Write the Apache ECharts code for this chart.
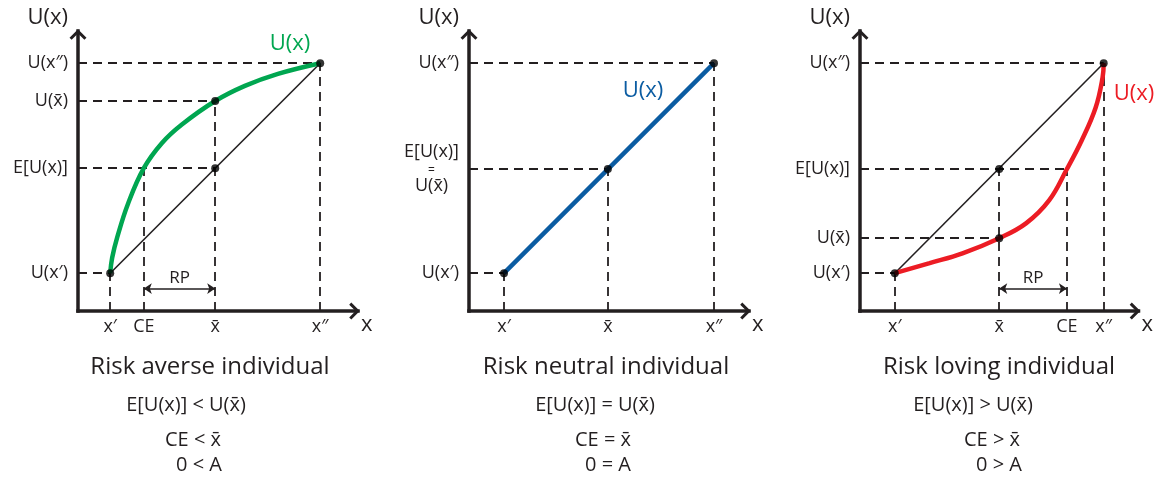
<!DOCTYPE html>
<html>
<head>
<meta charset="utf-8">
<script src="https://cdn.jsdelivr.net/npm/echarts@6/dist/echarts.min.js"></script>
<style>
html, body { margin: 0; padding: 0; background: #fff; }
#chart { width: 1156px; height: 483px; }
</style>
</head>
<body>
<div id="chart"></div>
<script>
// all three panels use 0-10 on both axes
const panelTitles = ['Risk averse individual', 'Risk neutral individual', 'Risk loving individual']
const xLow = [1.15, 1.25, 1.25]
const xCE = [2.35, null, 7.43]
const xMean = [4.9, 4.96, 5.0]
const xHigh = [8.65, 8.75, 8.75]
const uLow = [1.35, 1.35, 1.35]
const uExp = [5.1, 5.07, 5.07]
const uMean = [7.5, 5.07, 2.6]
const uHigh = [8.85, 8.85, 8.85]
const rpLevel = 0.8

const averseCurve = [[1.15, 1.35], [1.22, 1.9], [1.4, 2.63], [1.79, 3.84], [2.35, 5.1], [3.0, 6.0], [3.71, 6.66], [4.9, 7.5], [5.96, 8.04], [7.14, 8.47], [8.65, 8.85]]
const neutralCurve = [[1.25, 1.35], [8.75, 8.85]]
const lovingCurve = [[1.25, 1.35], [2.5, 1.71], [3.68, 2.06], [5.0, 2.6], [5.96, 3.13], [6.79, 3.95], [7.43, 5.07], [7.96, 6.09], [8.46, 7.26], [8.71, 8.33], [8.75, 8.85]]
const curves = [averseCurve, neutralCurve, lovingCurve]
const curveColors = ['#00a650', '#0b5ca2', '#ec1c24']

const xTickText = { low: 'x′', ce: 'CE', mean: 'x̄', high: 'x″' }
const yTickText = { low: 'U(x′)', exp: 'E[U(x)]', mean: 'U(x̄)', high: 'U(x″)' }

const compareLines = [
  ['E[U(x)] < U(x̄)', 'CE < x̄', '0 < A'],
  ['E[U(x)] = U(x̄)', 'CE = x̄', '0 = A'],
  ['E[U(x)] > U(x̄)', 'CE > x̄', '0 > A']
]

const ink = '#231f20'
const font = "'Open Sans', 'Liberation Sans', sans-serif"
const gridLefts = [78, 469, 860]
const chevron = 'path://M10,0 L20,10 L17.5,12.5 L10,5 L2.5,12.5 L0,10 Z'

const chart = echarts.init(document.getElementById('chart'))

const grids = []
const xAxes = []
const yAxes = []
const series = []

const axisLine = {
  symbol: ['none', chevron],
  symbolSize: [17, 13],
  symbolOffset: [0, -3.5],
  lineStyle: { color: ink, width: 3.5, cap: 'square' }
}

const near = (a, b) => Math.abs(a - b) < 1e-6

for (let i = 0; i < 3; i++) {
  grids.push({ left: gridLefts[i], width: 280, top: 31, height: 280 })

  // ticks for this panel
  const xVals = [xLow[i], xMean[i], xHigh[i]]
  if (xCE[i] !== null) xVals.push(xCE[i])
  const yVals = i === 1 ? [uLow[i], uExp[i], uHigh[i]] : [uLow[i], uExp[i], uMean[i], uHigh[i]]

  xAxes.push({
    gridIndex: i, type: 'value', min: 0, max: 10,
    name: 'x', nameLocation: 'end', nameGap: 3,
    nameTextStyle: { fontFamily: font, fontSize: 22, color: ink, align: 'left', verticalAlign: 'top', padding: [3, 0, 0, 0] },
    axisLine: axisLine,
    axisTick: { show: false },
    splitLine: { show: false },
    axisLabel: {
      customValues: xVals, margin: 7,
      fontFamily: font, fontSize: 18, color: ink,
      formatter: v => {
        if (near(v, xLow[i])) return xTickText.low
        if (near(v, xMean[i])) return xTickText.mean
        if (near(v, xHigh[i])) return xTickText.high
        return xTickText.ce
      }
    }
  })

  yAxes.push({
    gridIndex: i, type: 'value', min: 0, max: 10,
    name: 'U(x)', nameLocation: 'end', nameGap: 2,
    nameTextStyle: { fontFamily: font, fontSize: 22, color: ink, align: 'right', verticalAlign: 'bottom', padding: [0, 10, 0, 0] },
    axisLine: axisLine,
    axisTick: { show: false },
    splitLine: { show: false },
    axisLabel: {
      customValues: yVals, margin: 10,
      fontFamily: font, fontSize: 18, color: ink,
      rich: {
        c: { fontFamily: font, fontSize: 18, color: ink, align: 'center', lineHeight: 18 },
        eq: { fontFamily: font, fontSize: 12, color: ink, align: 'center', lineHeight: 16, padding: [3, 0, 0, 0] }
      },
      formatter: v => {
        if (near(v, uLow[i])) return yTickText.low
        if (near(v, uHigh[i])) return yTickText.high
        if (i === 1) return '{c|' + yTickText.exp + '}\n{eq|=}\n{c|' + yTickText.mean + '}'
        if (near(v, uExp[i])) return yTickText.exp
        return yTickText.mean
      }
    }
  })

  // dashed guide lines
  const guides = []
  const h = (y, x) => guides.push({ coords: [[0, y], [x, y]] })
  const vl = (x, y) => guides.push({ coords: [[x, 0], [x, y]] })
  h(uHigh[i], xHigh[i]); vl(xHigh[i], uHigh[i])
  h(uLow[i], xLow[i]); vl(xLow[i], uLow[i])
  if (i === 0) {
    h(uMean[i], xMean[i]); vl(xMean[i], uMean[i])
    h(uExp[i], xMean[i]); vl(xCE[i], uExp[i])
  } else if (i === 1) {
    h(uExp[i], xMean[i]); vl(xMean[i], uExp[i])
  } else {
    h(uMean[i], xMean[i]); vl(xMean[i], uExp[i])
    h(uExp[i], xCE[i]); vl(xCE[i], uExp[i])
  }
  series.push({
    type: 'lines', coordinateSystem: 'cartesian2d', xAxisIndex: i, yAxisIndex: i,
    silent: true, z: 1,
    lineStyle: { color: ink, width: 1.8, type: [9, 6], opacity: 1 },
    data: guides
  })

  // risk premium arrow
  if (xCE[i] !== null) {
    const a = Math.min(xCE[i], xMean[i])
    const b = Math.max(xCE[i], xMean[i])
    series.push({
      type: 'lines', coordinateSystem: 'cartesian2d', xAxisIndex: i, yAxisIndex: i,
      silent: true, z: 2,
      symbol: ['arrow', 'arrow'], symbolSize: 8,
      lineStyle: { color: ink, width: 1.6, opacity: 1 },
      label: { show: true, position: 'middle', formatter: 'RP', fontFamily: font, fontSize: 17, color: ink, distance: 2 },
      data: [{ coords: [[a, rpLevel], [b, rpLevel]] }]
    })
  }

  // chord between the two outcomes
  if (i !== 1) {
    series.push({
      type: 'line', xAxisIndex: i, yAxisIndex: i, z: 3, silent: true,
      showSymbol: false,
      lineStyle: { color: ink, width: 1.6 },
      data: [[xLow[i], uLow[i]], [xHigh[i], uHigh[i]]]
    })
  }

  series.push({
    type: 'line', xAxisIndex: i, yAxisIndex: i, z: 4, silent: true,
    showSymbol: false, smooth: 0.4,
    lineStyle: { color: curveColors[i], width: 4.5 },
    data: curves[i]
  })

  const dots = [[xLow[i], uLow[i]], [xMean[i], uExp[i]], [xHigh[i], uHigh[i]]]
  if (i !== 1) dots.push([xMean[i], uMean[i]])
  series.push({
    type: 'scatter', xAxisIndex: i, yAxisIndex: i, z: 5, silent: true,
    symbolSize: 8, itemStyle: { color: '#000' },
    data: dots
  })
}

// free text: curve names and panel captions
const graphic = []
const curveLabelPos = [[290, 44], [643, 91], [1134, 94]]
const titleX = [210, 606, 999]
const lineX = [[186, 193, 199], [595, 603, 608], [973, 992, 999]]
const lineY = [405, 440, 465]
for (let i = 0; i < 3; i++) {
  graphic.push({
    type: 'text', x: curveLabelPos[i][0], y: curveLabelPos[i][1],
    style: { text: 'U(x)', fill: curveColors[i], fontFamily: font, fontSize: 22, align: 'center', verticalAlign: 'middle' }
  })
  graphic.push({
    type: 'text', x: titleX[i], y: 367,
    style: { text: panelTitles[i], fill: ink, fontFamily: font, fontSize: 24, align: 'center', verticalAlign: 'middle' }
  })
  for (let k = 0; k < 3; k++) {
    graphic.push({
      type: 'text', x: lineX[i][k], y: lineY[k],
      style: { text: compareLines[i][k], fill: ink, fontFamily: font, fontSize: 20, align: 'center', verticalAlign: 'middle' }
    })
  }
}

chart.setOption({
  backgroundColor: '#fff',
  animation: false,
  grid: grids,
  xAxis: xAxes,
  yAxis: yAxes,
  series: series,
  graphic: graphic
})
</script>
</body>
</html>
